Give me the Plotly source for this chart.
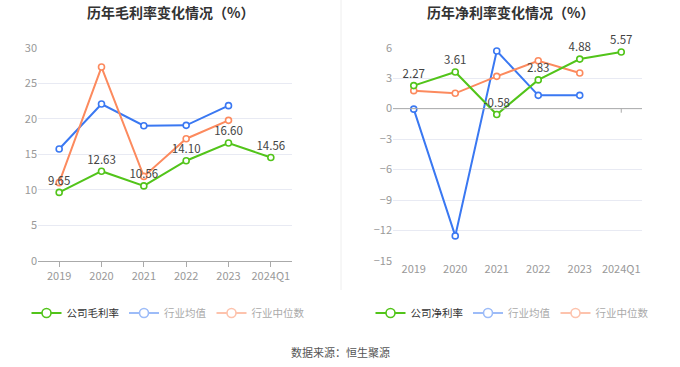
import plotly.graph_objects as go

years = ["2019", "2020", "2021", "2022", "2023", "2024Q1"]
gross_company = [9.65, 12.63, 10.56, 14.10, 16.60, 14.56]
gross_avg = [15.75, 22.08, 19.03, 19.08, 21.85, None]
gross_median = [11.02, 27.28, 11.9, 17.2, 19.78, None]

net_company = [2.27, 3.61, -0.58, 2.83, 4.88, 5.57]
net_avg = [-0.05, -12.53, 5.68, 1.31, 1.31, None]
net_median = [1.77, 1.51, 3.18, 4.72, 3.51, None]

green = "#52c41a"
blue = "#3a78f2"
orange = "#fc8a5e"
green_l = "#52c41a"
blue_l = "#9dbcf8"
orange_l = "#fdc3ad"
FONT = "Noto Sans CJK SC"

fig = go.Figure()

def add_series(xa, ya, y, color, label=False):
    fig.add_trace(go.Scatter(
        x=years, y=y, xaxis=xa, yaxis=ya, mode="lines+markers+text" if label else "lines+markers",
        line=dict(color=color, width=2),
        marker=dict(symbol="circle", size=6, color="white", line=dict(color=color, width=1.6)),
        text=[f"{v:.2f}" for v in y] if label else None,
        textposition="top center", textfont=dict(size=11.5, color="#444", family=FONT),
        showlegend=False, cliponaxis=False, hoverinfo="skip"))

add_series("x", "y", gross_avg, blue)
add_series("x", "y", gross_median, orange)
add_series("x", "y", gross_company, green, True)
add_series("x2", "y2", net_avg, blue)
add_series("x2", "y2", net_median, orange)
add_series("x2", "y2", net_company, green, True)

def legend_item(name, color, textcolor, legend):
    fig.add_trace(go.Scatter(
        x=[None], y=[None], mode="lines+markers", name=f"<span style='color:{textcolor}'>{name}</span>",
        line=dict(color=color, width=2),
        marker=dict(symbol="circle", size=9, color="white", line=dict(color=color, width=1.6)),
        legend=legend, showlegend=True, hoverinfo="skip"))

legend_item("公司毛利率", green_l, "#333", "legend")
legend_item("行业均值", blue_l, "#aaa", "legend")
legend_item("行业中位数", orange_l, "#aaa", "legend")
legend_item("公司净利率", green_l, "#333", "legend2")
legend_item("行业均值", blue_l, "#aaa", "legend2")
legend_item("行业中位数", orange_l, "#aaa", "legend2")

W, H = 680, 367
ytop = 1 - 47.7 / H
ybot = 1 - 261 / H

xcommon = dict(type="category", range=[-0.5, 5.5], showgrid=False, automargin=False,
               tickfont=dict(size=11, color="#999", family=FONT), fixedrange=True)
ycommon = dict(showgrid=True, gridcolor="#e8eaf3", gridwidth=1, automargin=False,
               tickfont=dict(size=11, color="#999", family=FONT), zeroline=False,
               domain=[ybot, ytop], ticks="", showline=False)

fig.update_layout(
    width=W, height=H, margin=dict(l=0, r=0, t=0, b=0, autoexpand=False),
    paper_bgcolor="white", plot_bgcolor="white",
    font=dict(family=FONT),
    xaxis=dict(**xcommon, domain=[38 / W, 292 / W], anchor="y",
               showline=True, linecolor="#aaa", linewidth=1, ticks="outside", ticklen=5, tickcolor="#aaa"),
    yaxis=dict(**ycommon, anchor="x", range=[0, 30], dtick=5, tick0=0),
    xaxis2=dict(**xcommon, domain=[393 / W, 642 / W], anchor="y2", showline=False, ticks=""),
    yaxis2=dict(**ycommon, anchor="x2", range=[-15, 6], dtick=3, tick0=0),
    legend=dict(orientation="h", x=168 / W, xanchor="center", y=1 - 313 / H, yanchor="middle",
                font=dict(size=10.5, family=FONT), itemwidth=30, bgcolor="rgba(0,0,0,0)"),
    legend2=dict(orientation="h", x=512 / W, xanchor="center", y=1 - 313 / H, yanchor="middle",
                 font=dict(size=10.5, family=FONT), itemwidth=30, bgcolor="rgba(0,0,0,0)"),
    annotations=[
        dict(text="<b>历年毛利率变化情况（%）</b>", x=170 / W, y=1 - 12 / H, xref="paper", yref="paper",
             xanchor="center", yanchor="middle",
             showarrow=False, font=dict(size=14, color="#333", family=FONT)),
        dict(text="<b>历年净利率变化情况（%）</b>", x=510 / W, y=1 - 12 / H, xref="paper", yref="paper",
             xanchor="center", yanchor="middle",
             showarrow=False, font=dict(size=14, color="#333", family=FONT)),
        dict(text="数据来源：恒生聚源", x=0.5, y=1 - 352 / H, xref="paper", yref="paper",
             xanchor="center", yanchor="middle",
             showarrow=False, font=dict(size=11, color="#555", family=FONT)),
    ],
    shapes=[
        dict(type="line", xref="paper", yref="paper", x0=341 / W, x1=341 / W, y0=1 - 290 / H, y1=1,
             line=dict(color="#eeeeee", width=1)),
        dict(type="line", xref="x2 domain", yref="y2", x0=0, x1=1, y0=0, y1=0,
             line=dict(color="#aaa", width=1)),
    ],
)

for i, yr in enumerate(years):
    fig.add_shape(type="line", xref="x2", yref="y2", x0=yr, x1=yr, y0=0, y1=-0.4,
                  line=dict(color="#aaa", width=1))

fig.write_html("out.html", config={"displayModeBar": False},
               post_script="document.body.style.margin='0';document.body.style.overflow='hidden';")
